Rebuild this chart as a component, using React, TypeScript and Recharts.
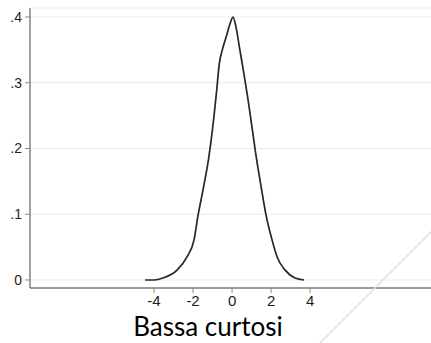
import { LineChart, Line, XAxis, YAxis, CartesianGrid } from 'recharts';

// kernel density
const xValues = [
  -4.46, -4.0, -3.54, -2.82, -2.31, -1.95, -1.74, -1.49, -1.2, -1.0, -0.8, -0.65, -0.5, -0.3, -0.1, 0.05,
  0.2, 0.4, 0.6, 0.8, 1.0, 1.2, 1.5, 1.74, 2.05, 2.31, 2.72, 3.23, 3.69,
];
const density = [
  0, 0, 0.003, 0.015, 0.035, 0.061, 0.099, 0.137, 0.185, 0.23, 0.285, 0.33, 0.35, 0.37, 0.39, 0.4,
  0.385, 0.35, 0.315, 0.278, 0.237, 0.195, 0.14, 0.099, 0.061, 0.035, 0.015, 0.003, 0,
];
const xTicks = [-4, -2, 0, 2, 4];
const yTicks = [0, 0.1, 0.2, 0.3, 0.4];
const title = 'Bassa curtosi';

const data = xValues.map((x, i) => ({ x, y: density[i] }));

const tickFont = { fill: '#1e1e1e', fontSize: 14, fontFamily: '"Liberation Sans", Arial, sans-serif' };
const fmtY = (v: number) => (v === 0 ? '0' : String(v).replace(/^0/, ''));

export default function App() {
  return (
    <div style={{ position: 'fixed', left: 0, top: 0, width: 431, height: 343, background: '#fff' }}>
      <LineChart width={431} height={343} data={data} margin={{ top: 8, right: 0, bottom: 35, left: 0 }}>
        <CartesianGrid vertical={false} stroke="#ebebeb" />
        <XAxis
          dataKey="x"
          type="number"
          domain={[-10.36, 10.2]}
          ticks={xTicks}
          height={20}
          tick={{ ...tickFont, fontSize: 15 }}
          tickSize={5}
          tickMargin={2}
          stroke="#444"
          tickLine={{ stroke: '#888' }}
          allowDataOverflow
        />
        <YAxis
          type="number"
          domain={[-0.0122, 0.4137]}
          ticks={yTicks}
          width={30}
          tick={tickFont}
          tickFormatter={fmtY}
          tickSize={5}
          tickMargin={3}
          stroke="#444"
          tickLine={{ stroke: '#888' }}
          allowDataOverflow
        />
        <Line
          dataKey="y"
          type="monotone"
          stroke="#262626"
          strokeWidth={1.7}
          dot={false}
          isAnimationActive={false}
        />
      </LineChart>
      <svg width={431} height={343} style={{ position: 'absolute', left: 0, top: 0, pointerEvents: 'none' }}>
        <line x1={432} y1={231} x2={320} y2={343} stroke="#d5e1ee" strokeWidth={1.5} />
      </svg>
      <div
        style={{
          position: 'absolute',
          left: 0,
          width: 416,
          top: 311,
          textAlign: 'center',
          fontFamily: 'Lato, "Open Sans", sans-serif',
          fontSize: 26,
          lineHeight: '30px',
          color: '#000',
        }}
      >
        {title}
      </div>
    </div>
  );
}
